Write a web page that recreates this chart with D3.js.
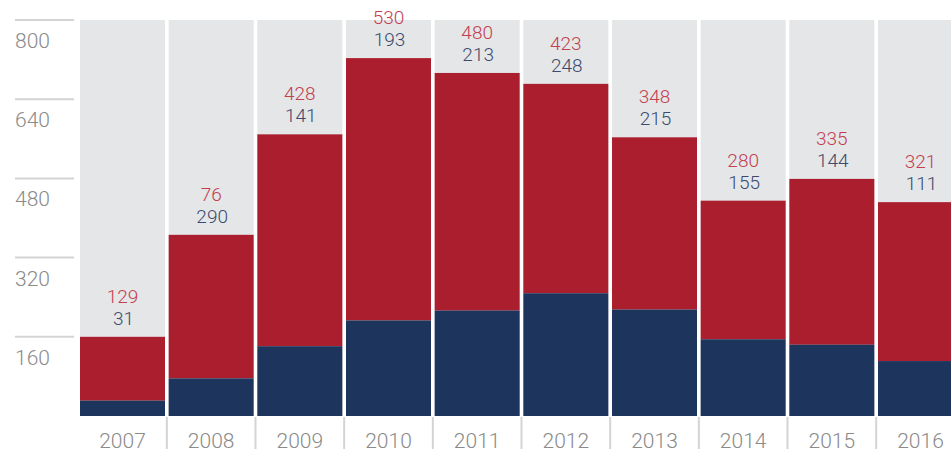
<!DOCTYPE html>
<html>
<head>
<meta charset="utf-8">
<script src="https://cdn.jsdelivr.net/npm/d3@7"></script>
<style>
  body { margin: 0; background: #fff; }
  svg text { font-family: Roboto, "Noto Sans", sans-serif; font-weight: 300; }
</style>
</head>
<body>
<svg width="951" height="453"></svg>
<script>
// years along the x axis
const years = ["2007", "2008", "2009", "2010", "2011", "2012", "2013", "2014", "2015", "2016"];
// bottom (navy) and top (red) segments
const navyValues = [31, 76, 141, 193, 213, 248, 215, 155, 144, 111];
const redValues = [129, 290, 428, 530, 480, 423, 348, 280, 335, 321];
// labels as printed above each bar (2008 is swapped in the source)
const topLabels = [129, 76, 428, 530, 480, 423, 348, 280, 335, 321];
const lowLabels = [31, 290, 141, 193, 213, 248, 215, 155, 144, 111];
const yTicks = [160, 320, 480, 640, 800];

let svg = d3.select("svg");

let x = d3.scaleBand()
    .domain(years)
    .range([80, 963])
    .paddingInner(0.0414)
    .paddingOuter(0);

let y = d3.scaleLinear()
    .domain([0, 800])
    .range([416, 20]);

let rows = years.map((yr, i) => ({
    year: yr, navy: navyValues[i], red: redValues[i],
    top: topLabels[i], low: lowLabels[i]
}));

// gridlines + labels on the left
let grid = svg.append("g").attr("class", "grid");
grid.selectAll("line")
    .data(yTicks)
    .enter().append("line")
    .attr("x1", 15).attr("x2", 74)
    .attr("y1", d => y(d)).attr("y2", d => y(d))
    .attr("stroke", "#d4d4d4")
    .attr("stroke-width", 2);
grid.selectAll("text")
    .data(yTicks)
    .enter().append("text")
    .attr("x", 15)
    .attr("y", d => y(d) + 28)
    .attr("fill", "#8a8a8a")
    .attr("font-size", 21)
    .text(d => d);

// grey background bars
svg.append("g").selectAll("rect")
    .data(rows)
    .enter().append("rect")
    .attr("x", d => x(d.year))
    .attr("width", x.bandwidth())
    .attr("y", y(800))
    .attr("height", y(0) - y(800))
    .attr("fill", "#e5e6e8");

// red segment
svg.append("g").selectAll("rect")
    .data(rows)
    .enter().append("rect")
    .attr("x", d => x(d.year))
    .attr("width", x.bandwidth())
    .attr("y", d => y(d.navy + d.red))
    .attr("height", d => y(d.navy) - y(d.navy + d.red))
    .attr("fill", "#aa1e2e");

// navy segment
svg.append("g").selectAll("rect")
    .data(rows)
    .enter().append("rect")
    .attr("x", d => x(d.year))
    .attr("width", x.bandwidth())
    .attr("y", d => y(d.navy))
    .attr("height", d => y(0) - y(d.navy))
    .attr("fill", "#1d345c");

// value labels
let labels = svg.append("g").attr("text-anchor", "middle").attr("font-size", 19);
labels.selectAll("text.top")
    .data(rows)
    .enter().append("text")
    .attr("class", "top")
    .attr("x", d => x(d.year) + x.bandwidth() / 2)
    .attr("y", d => y(d.navy + d.red) - 34)
    .attr("fill", "#c2404f")
    .text(d => d.top);
labels.selectAll("text.low")
    .data(rows)
    .enter().append("text")
    .attr("class", "low")
    .attr("x", d => x(d.year) + x.bandwidth() / 2 + 1)
    .attr("y", d => y(d.navy + d.red) - 12)
    .attr("fill", "#3b4a6d")
    .text(d => d.low);

// x axis: separators + year labels
let gap = x.step() - x.bandwidth();
svg.append("g").selectAll("line")
    .data(years.slice(1))
    .enter().append("line")
    .attr("x1", d => x(d) - gap / 2).attr("x2", d => x(d) - gap / 2)
    .attr("y1", 417).attr("y2", 449)
    .attr("stroke", "#d4d4d4")
    .attr("stroke-width", 2);
svg.append("g").selectAll("text")
    .data(years)
    .enter().append("text")
    .attr("x", d => x(d) + x.bandwidth() / 2)
    .attr("y", 448)
    .attr("text-anchor", "middle")
    .attr("fill", "#8a8a8a")
    .attr("font-size", 21)
    .text(d => d);
</script>
</body>
</html>
